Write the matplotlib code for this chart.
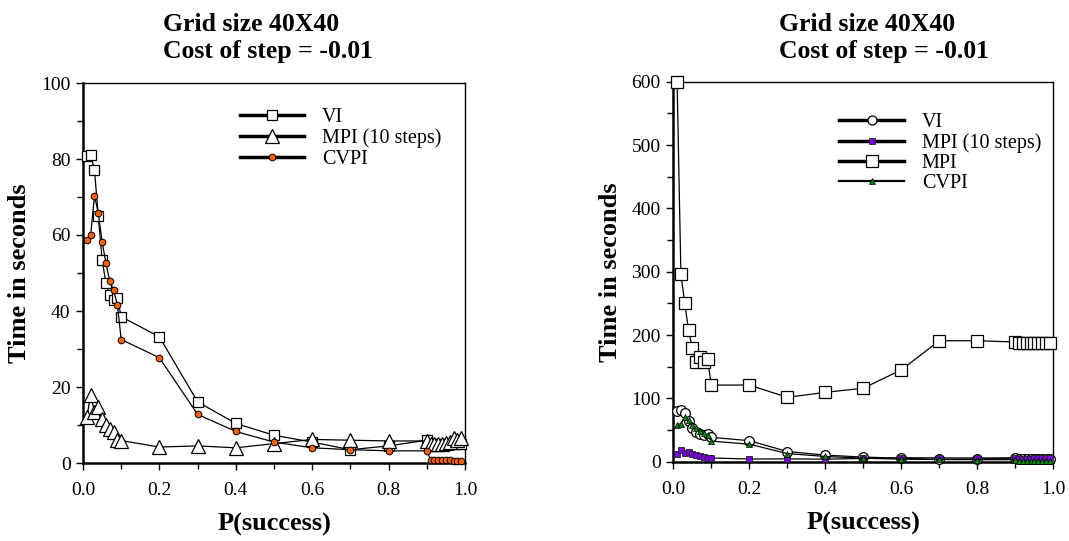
import matplotlib
matplotlib.use("Agg")
import matplotlib.pyplot as plt
from matplotlib.lines import Line2D
from matplotlib.ticker import MultipleLocator

# ---------------- data ----------------
p_success = [0.01, 0.02, 0.03, 0.04, 0.05, 0.06, 0.07, 0.08, 0.09,
             0.1, 0.2, 0.3, 0.4, 0.5, 0.6, 0.7, 0.8, 0.9,
             0.91, 0.92, 0.93, 0.94, 0.95, 0.96, 0.97, 0.98, 0.99]

vi_time = [80.8, 81.1, 77.1, 65.0, 53.4, 47.4, 44.2, 42.8, 43.3,
           38.5, 33.2, 16.1, 10.4, 7.3, 5.5, 3.5, 4.5, 6.0,
           5.0, 5.0, 5.0, 5.0, 5.0, 5.0, 5.0, 5.0, 5.0]

mpi10_time = [12.0, 18.0, 13.5, 14.8, 11.5, 10.0, 9.0, 8.2, 6.0,
              5.9, 4.2, 4.5, 4.0, 5.1, 6.2, 6.0, 5.8, 5.8,
              5.0, 5.0, 5.0, 5.0, 5.2, 5.5, 6.5, 6.0, 6.5]

cvpi_time = [58.6, 60.0, 70.3, 65.8, 58.2, 52.7, 47.8, 45.4, 41.7,
             32.5, 27.7, 12.8, 8.3, 5.5, 4.0, 3.5, 3.2, 3.2,
             0.8, 0.7, 0.7, 0.7, 0.7, 0.7, 0.6, 0.4, 0.4]

mpi_time = [600, 296, 251, 208, 179, 157, 166, 157, 162,
            121, 121, 101.6, 109.5, 116, 145, 191, 191, 189,
            187, 187, 187, 187, 187, 187, 187, 187, 187]

title_text = "Grid size 40X40\nCost of step = -0.01"
x_label = "P(success)"
y_label = "Time in seconds"

left_labels = ["VI", "MPI (10 steps)", "CVPI"]
right_labels = ["VI", "MPI (10 steps)", "MPI", "CVPI"]

# ---------------- style ----------------
FONT = "Liberation Serif"
plt.rcParams["font.family"] = [FONT, "DejaVu Serif"]

W, H = 1069, 541
fig = plt.figure(figsize=(W / 100, H / 100), dpi=100)


def fx(px):
    return px / W


def fy(py):
    return 1 - py / H


ax1 = fig.add_axes([fx(83), fy(463), fx(465) - fx(83), fy(83) - fy(463)])
ax2 = fig.add_axes([fx(673.3), fy(461.7), fx(1053.3) - fx(673.3), fy(81.7) - fy(461.7)])

LW = 0.9
ORANGE = "#FF6000"
PURPLE = "#7A00E6"
GREEN = "#008A00"

# left plot
ax1.plot(p_success, vi_time, color="black", lw=LW, marker="s", ms=6.5,
         mfc="white", mec="black", mew=0.9, clip_on=False, zorder=3)
ax1.plot(p_success, mpi10_time, color="black", lw=LW, marker="^", ms=9.5,
         mfc="white", mec="black", mew=0.9, clip_on=False, zorder=3)
ax1.plot(p_success, cvpi_time, color="black", lw=LW, marker="o", ms=4.8,
         mfc=ORANGE, mec="black", mew=0.7, clip_on=False, zorder=4)

# right plot
ax2.plot(p_success, mpi_time, color="black", lw=LW, marker="s", ms=9,
         mfc="white", mec="black", mew=0.9, clip_on=False, zorder=3)
ax2.plot(p_success, vi_time, color="black", lw=LW, marker="o", ms=7,
         mfc="white", mec="black", mew=0.9, clip_on=False, zorder=3)
ax2.plot(p_success, mpi10_time, color="black", lw=LW, marker="s", ms=5,
         mfc=PURPLE, mec="#222222", mew=0.6, clip_on=False, zorder=4)
ax2.plot(p_success, cvpi_time, color="black", lw=LW, marker="^", ms=4.5,
         mfc=GREEN, mec="black", mew=0.5, clip_on=False, zorder=4)

for ax, ymax, ymaj, ymin in [(ax1, 100, 20, 10), (ax2, 600, 100, 50)]:
    ax.set_xlim(0, 1)
    ax.set_ylim(0, ymax)
    ax.xaxis.set_major_locator(MultipleLocator(0.2))
    ax.xaxis.set_minor_locator(MultipleLocator(0.1))
    ax.yaxis.set_major_locator(MultipleLocator(ymaj))
    ax.yaxis.set_minor_locator(MultipleLocator(ymin))
    ax.xaxis.set_major_formatter(matplotlib.ticker.FormatStrFormatter("%.1f"))
    ax.tick_params(axis="both", which="both", direction="out", labelsize=14,
                   width=1.0, top=False, right=False)
    ax.tick_params(axis="both", which="major", length=5, pad=4)
    ax.tick_params(axis="both", which="minor", length=4)
    ax.tick_params(axis="x", which="major", pad=9)
    for s in ["left", "bottom"]:
        ax.spines[s].set_linewidth(1.8)
    for s in ["top", "right"]:
        ax.spines[s].set_linewidth(1.0)

# titles
fig.text(fx(163), fy(13), title_text, ha="left", va="top", fontsize=18.5,
         fontweight="bold", linespacing=1.22)
fig.text(fx(779), fy(13), title_text, ha="left", va="top", fontsize=18.5,
         fontweight="bold", linespacing=1.22)

# axis labels
for ax in (ax1, ax2):
    ax.set_xlabel(x_label, fontsize=19, fontweight="bold", labelpad=10)
    ax.set_ylabel(y_label, fontsize=19, fontweight="bold", labelpad=7)

# legends
lh1 = [
    Line2D([], [], color="black", lw=2.5, marker="s", ms=6.5, mfc="white", mec="black", mew=0.9),
    Line2D([], [], color="black", lw=2.5, marker="^", ms=9.5, mfc="white", mec="black", mew=0.9),
    Line2D([], [], color="black", lw=2.5, marker="o", ms=4.8, mfc=ORANGE, mec="black", mew=0.7),
]
ax1.legend(lh1, left_labels, loc="upper left", bbox_to_anchor=(0.41, 0.935),
           frameon=False, fontsize=14.5, handlelength=3.2, handletextpad=0.9,
           labelspacing=0.08, borderpad=0, borderaxespad=0)

lh2 = [
    Line2D([], [], color="black", lw=2.5, marker="o", ms=6.5, mfc="white", mec="black", mew=0.9),
    Line2D([], [], color="black", lw=2.5, marker="s", ms=5, mfc=PURPLE, mec="#222222", mew=0.6),
    Line2D([], [], color="black", lw=2.5, marker="s", ms=9, mfc="white", mec="black", mew=0.9),
    Line2D([], [], color="black", lw=1.6, marker="^", ms=4.5, mfc=GREEN, mec="black", mew=0.5),
]
ax2.legend(lh2, right_labels, loc="upper left", bbox_to_anchor=(0.437, 0.918),
           frameon=False, fontsize=14.5, handlelength=3.2, handletextpad=0.9,
           labelspacing=0.05, borderpad=0, borderaxespad=0)

fig.savefig("out.png", dpi=100)
